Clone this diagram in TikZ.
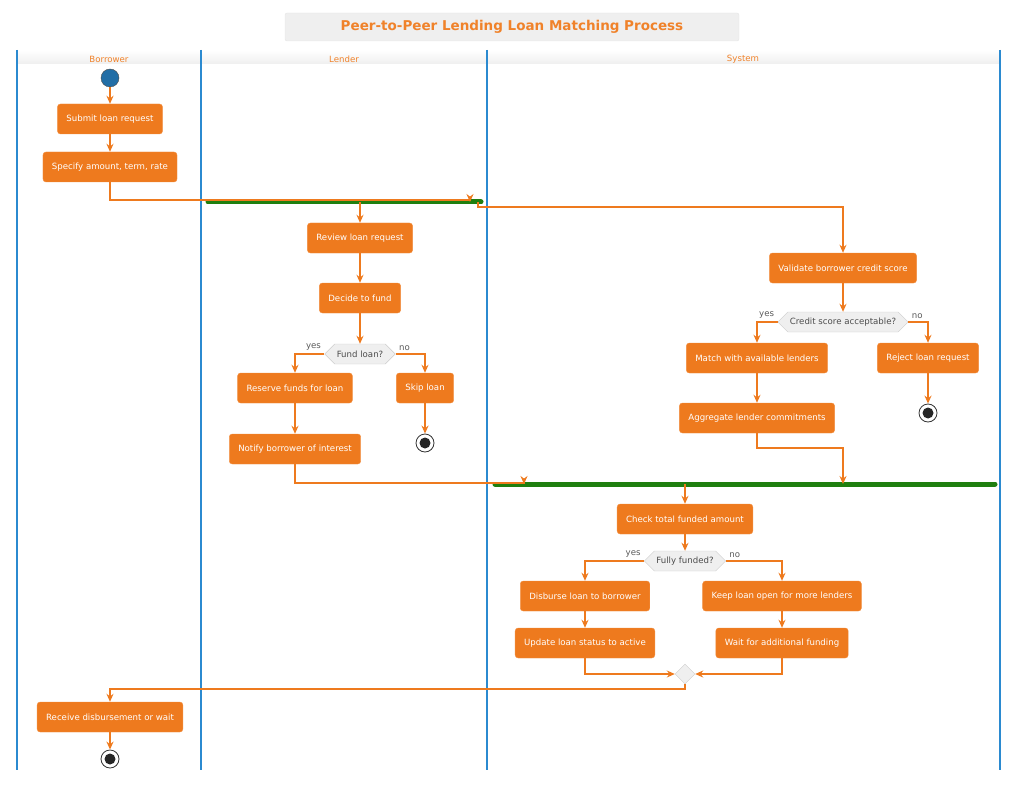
\documentclass[tikz,border=0pt]{standalone}
\usepackage{fontspec}
\setmainfont{DejaVu Sans}
\usetikzlibrary{arrows.meta,shapes.geometric,shapes.symbols}
\definecolor{ora}{HTML}{EE7A1E}
\definecolor{oratxt}{HTML}{F0822A}
\definecolor{lane}{HTML}{2B8AD0}
\definecolor{bar}{HTML}{1F7F0F}
\definecolor{pale}{HTML}{EFEFEF}
\begin{document}
\begin{tikzpicture}[x=1pt,y=-1pt,
    act/.style={draw=ora!85!white,fill=ora,rounded corners=3,text=white,minimum height=30,inner xsep=9,font=\fontsize{8.6}{10}\selectfont},
    dec/.style={draw=black!20,fill=pale,shape=signal,signal to=east and west,minimum height=20,inner xsep=2,text=black!70,font=\fontsize{8.6}{10}\selectfont},
    lab/.style={text=black!65,font=\fontsize{8.6}{10}\selectfont},
    fl/.style={draw=ora,line width=1.6pt,-{Stealth[length=8pt,width=7pt]}},
    ln/.style={draw=ora,line width=1.6pt},
    fork/.style={draw=bar,line width=5pt,line cap=round},
    stop/.style={circle,draw=black!80,fill=white,minimum size=18,inner sep=0,line width=0.8pt,path picture={\fill[black!85] (path picture bounding box.center) circle (5.5);}}]
    \useasboundingbox (0,0) rectangle (1024,786);

    % title and lanes
    \node[draw=black!10,fill=pale,rounded corners=2,minimum width=454,minimum height=28,text=oratxt,font=\bfseries\fontsize{13.5}{16}\selectfont] (title) at (512,27) {Peer-to-Peer Lending Loan Matching Process};
    \shade[top color=white,bottom color=pale] (17,50) rectangle (1000,64);
    \foreach \x in {17,201,487,1000} \draw[lane,line width=1.3pt] (\x,50) -- (\x,770);
    \foreach \x/\t in {109/Borrower,344/Lender,743/System}
        \node[text=oratxt,font=\fontsize{8.6}{10}\selectfont] at (\x,59) {\t};

    % borrower
    \node[circle,draw=black!70,fill=lane!80!black,minimum size=18,inner sep=0] (start) at (110,78) {};
    \node[act] (submit) at (110,119) {Submit loan request};
    \node[act] (specify) at (110,167) {Specify amount, term, rate};
    \draw[fork] (208,202) -- (481,202); % fork
    \coordinate (f1in) at (470,202);
    \coordinate (f1l) at (360,202);
    \coordinate (f1r) at (478,202);

    % lender
    \node[act] (review) at (360,238) {Review loan request};
    \node[act] (decide) at (360,298) {Decide to fund};
    \node[dec] (fund) at (360,354) {Fund loan?};
    \node[act] (reserve) at (295,388) {Reserve funds for loan};
    \node[act] (skip) at (425,388) {Skip loan};
    \node[stop] (end1) at (425,443) {};
    \node[act] (notify) at (295,449) {Notify borrower of interest};

    % system
    \node[act] (validate) at (843,268) {Validate borrower credit score};
    \node[dec] (credit) at (843,322) {Credit score acceptable?};
    \node[act] (match) at (757,358) {Match with available lenders};
    \node[act] (reject) at (928,358) {Reject loan request};
    \node[stop] (end2) at (928,413) {};
    \node[act] (aggregate) at (757,418) {Aggregate lender commitments};
    \draw[fork] (495,484) -- (995,484); % join
    \coordinate (f2l) at (524,484);
    \coordinate (f2r) at (843,484);
    \coordinate (f2out) at (685,484);
    \node[act] (check) at (685,519) {Check total funded amount};
    \node[dec] (funded) at (685,561) {Fully funded?};
    \node[act] (disburse) at (585,596) {Disburse loan to borrower};
    \node[act] (update) at (585,643) {Update loan status to active};
    \node[act] (keep) at (782,596) {Keep loan open for more lenders};
    \node[act] (wait) at (782,643) {Wait for additional funding};
    \node[diamond,draw=black!20,fill=pale,minimum size=20,inner sep=0] (merge) at (685,674) {};
    \node[act] (receive) at (110,717) {Receive disbursement or wait};
    \node[stop] (end3) at (110,759) {};

    % flows
    \draw[fl] (start) -- (submit);
    \draw[fl] (submit) -- (specify);
    \draw[fl] (specify.south) -- ++(0,18) -| (f1in);
    \draw[fl] (f1l) -- (review);
    \draw[fl] (f1r) -- ++(0,5) -| (validate);
    \draw[fl] (review) -- (decide);
    \draw[fl] (decide) -- (fund);
    \draw[fl] (fund.west) -| (reserve);
    \draw[fl] (fund.east) -| (skip);
    \node[lab,anchor=south east] at (fund.west) {yes};
    \node[lab,anchor=south west] at (fund.east) {no};
    \draw[fl] (skip) -- (end1);
    \draw[fl] (reserve) -- (notify);
    \draw[fl] (notify.south) -- ++(0,19) -| (f2l);
    \draw[fl] (validate) -- (credit);
    \draw[fl] (credit.west) -| (match);
    \draw[fl] (credit.east) -| (reject);
    \node[lab,anchor=south east] at (credit.west) {yes};
    \node[lab,anchor=south west] at (credit.east) {no};
    \draw[fl] (reject) -- (end2);
    \draw[fl] (match) -- (aggregate);
    \draw[fl] (aggregate.south) -- ++(0,15) -| (f2r);
    \draw[fl] (f2out) -- (check);
    \draw[fl] (check) -- (funded);
    \draw[fl] (funded.west) -| (disburse);
    \draw[fl] (funded.east) -| (keep);
    \node[lab,anchor=south east] at (funded.west) {yes};
    \node[lab,anchor=south west] at (funded.east) {no};
    \draw[fl] (disburse) -- (update);
    \draw[fl] (keep) -- (wait);
    \draw[fl] (update.south) |- (merge.west);
    \draw[fl] (wait.south) |- (merge.east);
    \draw[fl] (merge.south) -- ++(0,5) -| (receive);
    \draw[fl] (receive) -- (end3);
\end{tikzpicture}
\end{document}
